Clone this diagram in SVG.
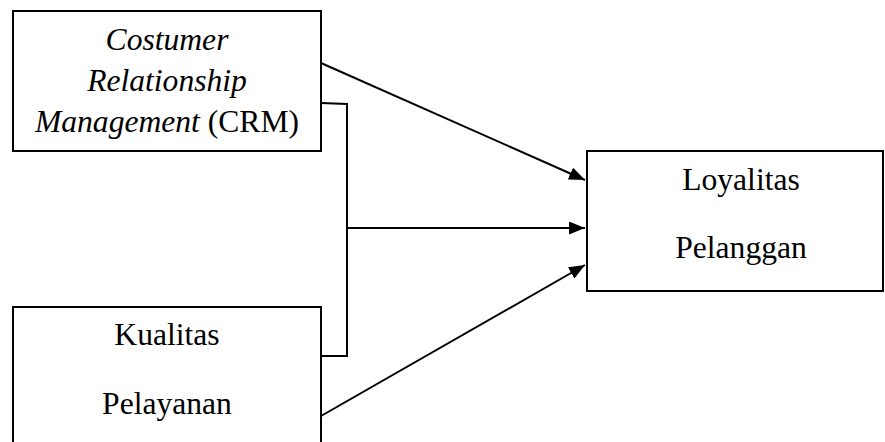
<svg xmlns="http://www.w3.org/2000/svg" width="885" height="442" viewBox="0 0 885 442">
<style>
.box{fill:#fff;stroke:#000;stroke-width:2}
.t{font-family:"Liberation Serif","Times New Roman",serif;font-size:31.6px;fill:#000;text-anchor:middle}
.i{font-style:italic}
.c{fill:none;stroke:#000;stroke-width:2}
</style>
<defs>
<marker id="ah" markerWidth="16" markerHeight="13" refX="16" refY="6.5" orient="auto" markerUnits="userSpaceOnUse">
<path d="M0,0 L16,6.5 L0,13 Z" fill="#000"/>
</marker>
</defs>
<rect width="885" height="442" fill="#fff"/>
<g id="connectors">
<line class="c" x1="321" y1="63" x2="585" y2="180" marker-end="url(#ah)"/>
<polyline class="c" points="321,103 347,104 347,356 321,356"/>
<line class="c" x1="347" y1="228" x2="585" y2="228" marker-end="url(#ah)"/>
<line class="c" x1="321" y1="416" x2="585" y2="265" marker-end="url(#ah)"/>
</g>
<g id="crm">
<rect class="box" x="13" y="11" width="308" height="140"/>
<text class="t i" x="167" y="50">Costumer</text>
<text class="t i" x="167" y="91">Relationship</text>
<text class="t" x="167" y="132"><tspan class="i">Management</tspan> (CRM)</text>
</g>
<g id="kualitas">
<rect class="box" x="13" y="307" width="308" height="150"/>
<text class="t" x="167" y="345">Kualitas</text>
<text class="t" x="167" y="414">Pelayanan</text>
</g>
<g id="loyalitas">
<rect class="box" x="587" y="151" width="296" height="140"/>
<text class="t" x="741" y="190">Loyalitas</text>
<text class="t" x="741" y="258">Pelanggan</text>
</g>
</svg>
